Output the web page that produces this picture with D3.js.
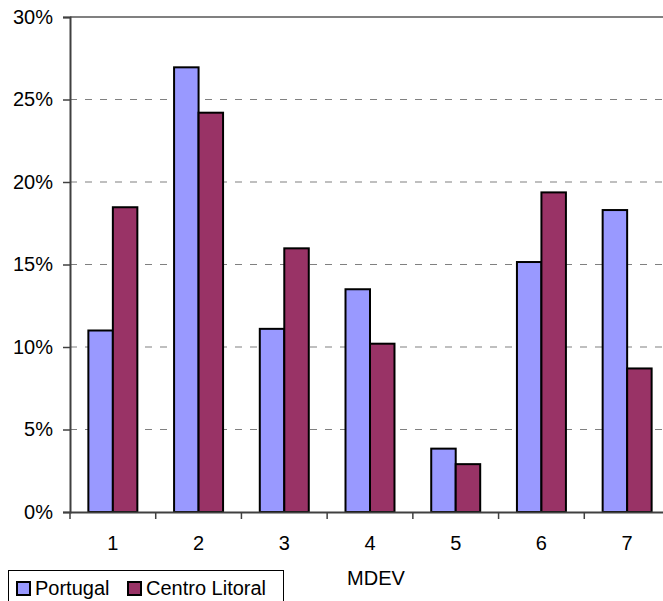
<!DOCTYPE html>
<html>
<head>
<meta charset="utf-8">
<script src="https://cdn.jsdelivr.net/npm/d3@7"></script>
<style>
  html, body { margin: 0; padding: 0; background: #fff; }
  svg { display: block; }
  text { font-family: "Liberation Sans", Arial, sans-serif; fill: #000; }
</style>
</head>
<body>
<svg id="chart" width="663" height="601"></svg>
<script>
const categories = ["1", "2", "3", "4", "5", "6", "7"];
const seriesNames = ["Portugal", "Centro Litoral"];
const portugal = [11.0, 26.95, 11.1, 13.5, 3.84, 15.15, 18.3];
const centroLitoral = [18.47, 24.2, 15.98, 10.2, 2.9, 19.37, 8.7];
const yTicks = [0, 5, 10, 15, 20, 25, 30];
const colors = ["#9999FF", "#993366"];
const xTitle = "MDEV";

(function () {
const FONT = "'Liberation Sans', Arial, sans-serif";
const svg = d3.select("#chart");
const pLeft = 70, pRight = 670, pTop = 17, pBottom = 512;

const x0 = d3.scaleBand().domain(categories).range([pLeft, pRight]).padding(0);
const x1 = d3.scaleBand().domain(seriesNames).range([0, x0.bandwidth()])
  .paddingInner(0).paddingOuter(0.75);
const y = d3.scaleLinear().domain([0, 30]).range([pBottom, pTop]);

// gridlines
svg.append("g").selectAll("line")
  .data(yTicks.filter(t => t > 0 && t < 30))
  .join("line")
  .attr("x1", pLeft).attr("x2", pRight)
  .attr("y1", d => y(d)).attr("y2", d => y(d))
  .attr("stroke", "#808080").attr("stroke-width", 1.2)
  .attr("stroke-dasharray", "7,8");

// top line
svg.append("line")
  .attr("x1", pLeft).attr("x2", pRight)
  .attr("y1", y(30)).attr("y2", y(30))
  .attr("stroke", "#808080").attr("stroke-width", 2);

// bars
const data = categories.map((c, i) => ({ cat: c, vals: [portugal[i], centroLitoral[i]] }));
const groups = svg.append("g").selectAll("g")
  .data(data).join("g")
  .attr("transform", d => `translate(${x0(d.cat)},0)`);
groups.selectAll("rect")
  .data(d => d.vals.map((v, j) => ({ name: seriesNames[j], v, j })))
  .join("rect")
  .attr("x", d => x1(d.name))
  .attr("width", x1.bandwidth())
  .attr("y", d => y(d.v))
  .attr("height", d => y(0) - y(d.v))
  .attr("fill", d => colors[d.j])
  .attr("stroke", "#000").attr("stroke-width", 2);

// y axis
const yAxis = d3.axisLeft(y).tickValues(yTicks).tickFormat(d => d + "%")
  .tickSize(7).tickPadding(10);
const yg = svg.append("g").attr("transform", `translate(${pLeft},0)`).call(yAxis);
yg.select(".domain").attr("stroke", "#404040").attr("stroke-width", 2);
yg.selectAll(".tick line").attr("stroke", "#404040").attr("stroke-width", 1.5);
yg.selectAll(".tick text").style("font-size", "20px")
  .style("font-family", FONT).attr("fill", "#000");

// x axis
const xAxis = d3.axisBottom(x0).tickSize(0).tickPadding(24);
const xg = svg.append("g").attr("transform", `translate(0,${pBottom})`).call(xAxis);
xg.select(".domain").attr("stroke", "#404040").attr("stroke-width", 2);
xg.selectAll(".tick text").style("font-size", "20px")
  .style("font-family", FONT).attr("fill", "#000");
// boundary ticks between categories
xg.append("g").selectAll("line")
  .data(categories)
  .join("line")
  .attr("x1", d => x0(d)).attr("x2", d => x0(d))
  .attr("y1", 0).attr("y2", 7)
  .attr("stroke", "#404040").attr("stroke-width", 1.5);

// x title
svg.append("text")
  .attr("x", 376).attr("y", 585)
  .attr("text-anchor", "middle")
  .style("font-size", "20px").style("font-family", FONT)
  .text(xTitle);

// legend
const lg = svg.append("g");
lg.append("rect")
  .attr("x", 8.5).attr("y", 570.5).attr("width", 275).attr("height", 40)
  .attr("fill", "#fff").attr("stroke", "#000").attr("stroke-width", 1);
const legendX = [17, 128];
seriesNames.forEach((n, i) => {
  lg.append("rect")
    .attr("x", legendX[i]).attr("y", 582).attr("width", 13).attr("height", 13)
    .attr("fill", colors[i]).attr("stroke", "#000").attr("stroke-width", 2);
  lg.append("text")
    .attr("x", legendX[i] + 18).attr("y", 595)
    .style("font-size", "20px").style("font-family", FONT)
    .text(n);
});
})();
</script>
</body>
</html>
